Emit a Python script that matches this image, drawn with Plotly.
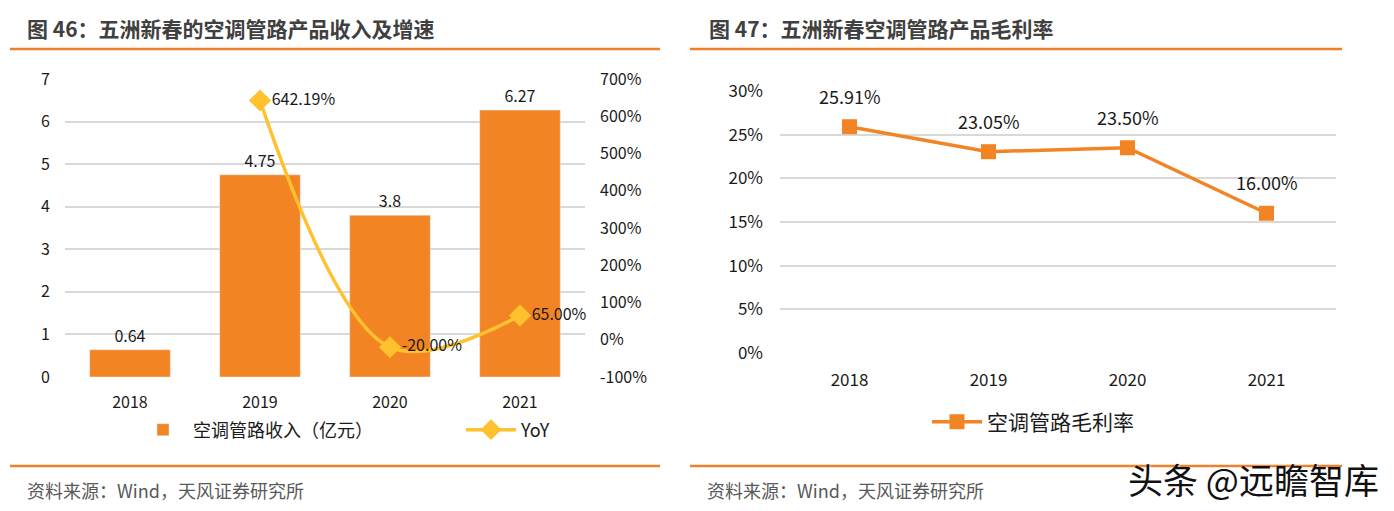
import plotly.graph_objects as go

years = ["2018", "2019", "2020", "2021"]
revenue = [0.64, 4.75, 3.8, 6.27]
yoy = [None, 642.19, -20.00, 65.00]
margin = [25.91, 23.05, 23.50, 16.00]

rev_labels = ["0.64", "4.75", "3.8", "6.27"]
yoy_labels = ["", "642.19%", "-20.00%", "65.00%"]
margin_labels = ["25.91%", "23.05%", "23.50%", "16.00%"]

left_ticks = [0, 1, 2, 3, 4, 5, 6, 7]
yoy_ticks = [-100, 0, 100, 200, 300, 400, 500, 600, 700]
yoy_ticktext = [f"{v}%" for v in yoy_ticks]
margin_ticks = [0, 5, 10, 15, 20, 25, 30]
margin_ticktext = [f"{v}%" for v in margin_ticks]

ORANGE = "#F28424"
YELLOW = "#FFC12E"
GRID = "#D9D9D9"
FONT = "Noto Sans CJK SC, sans-serif"
CJK = "Noto Sans CJK SC, sans-serif"

W, H = 1394, 511
OX, OY = 8, 8  # page body margin compensation
def px(x):
    return (x - OX) / W
def py(y):
    return (H - (y - OY)) / H

fig = go.Figure()

fig.add_trace(go.Bar(
    x=years, y=revenue, name="空调管路收入（亿元）",
    marker=dict(color=ORANGE), width=0.62,
    text=rev_labels, textposition="outside", cliponaxis=False,
    textfont=dict(size=16, color="#1a1a1a", family=FONT),
    xaxis="x", yaxis="y", legend="legend",
))
fig.add_trace(go.Scatter(
    x=years, y=yoy, name="YoY", mode="lines+markers+text",
    line=dict(color=YELLOW, width=3.5, shape="spline", smoothing=1.0),
    marker=dict(symbol="diamond", size=17, color=YELLOW),
    text=yoy_labels, textposition="middle right", cliponaxis=False,
    textfont=dict(size=16, color="#1a1a1a", family=FONT),
    xaxis="x", yaxis="y2", legend="legend",
))
fig.add_trace(go.Scatter(
    x=years, y=margin, name="空调管路毛利率", mode="lines+markers",
    line=dict(color=ORANGE, width=3.5),
    marker=dict(symbol="square", size=15, color=ORANGE),
    cliponaxis=False,
    xaxis="x3", yaxis="y3", legend="legend2",
))
for i, (yv, t) in enumerate(zip(margin, margin_labels)):
    fig.add_annotation(x=i, y=yv, text=t, xref="x3", yref="y3",
                       showarrow=False, yshift=31,
                       font=dict(size=18, color="#1a1a1a", family=FONT))

tickfont = dict(size=16, color="#1a1a1a", family=FONT)
tickfont_r = dict(size=17, color="#1a1a1a", family=FONT)

fig.update_layout(
    width=W, height=H, margin=dict(l=0, r=0, t=0, b=0, autoexpand=False),
    paper_bgcolor="white", plot_bgcolor="white",
    showlegend=True,
    xaxis=dict(type="category", categoryorder="array", categoryarray=years,
               range=[-0.5, 3.5], domain=[px(65), px(585)], anchor="y", showgrid=False,
               showline=False, ticks="", tickfont=tickfont, ticklabelstandoff=14,
               automargin=False),
    yaxis=dict(range=[0, 7], tickvals=left_ticks, showgrid=True, gridcolor=GRID,
               gridwidth=1.5, zeroline=False, showline=False, tickfont=tickfont,
               domain=[py(377), py(79)], ticklabelstandoff=14, automargin=False),
    yaxis2=dict(range=[-100, 700], tickvals=yoy_ticks, ticktext=yoy_ticktext,
                overlaying="y", side="right", anchor="x", showgrid=False,
                zeroline=False, showline=False, tickfont=tickfont,
                ticklabelstandoff=14, automargin=False),
    xaxis3=dict(type="category", categoryorder="array", categoryarray=years,
                range=[-0.5, 3.5], domain=[px(780), px(1336)], anchor="y3",
                showgrid=False, showline=False, ticks="", tickfont=tickfont_r,
                ticklabelstandoff=15, automargin=False),
    yaxis3=dict(range=[0, 30], tickvals=margin_ticks, ticktext=margin_ticktext,
                showgrid=True, gridcolor=GRID, gridwidth=1.5, zeroline=False,
                showline=False, domain=[py(353), py(91)],
                tickfont=tickfont_r, ticklabelstandoff=16, anchor="x3",
                automargin=False),
    legend=dict(orientation="h", x=px(133), y=py(430), yanchor="middle",
                xanchor="left", entrywidth=263, entrywidthmode="pixels",
                font=dict(size=18, color="#1a1a1a", family=CJK),
                bgcolor="rgba(0,0,0,0)", itemwidth=50),
    legend2=dict(orientation="h", x=px(927), y=py(422), yanchor="middle",
                 xanchor="left", font=dict(size=21, color="#1a1a1a", family=CJK),
                 bgcolor="rgba(0,0,0,0)", itemwidth=50),
)

# Titles
fig.add_annotation(x=px(25), y=py(28), xref="paper", yref="paper", xanchor="left",
                   yanchor="middle", showarrow=False,
                   text="<b>图 46：五洲新春的空调管路产品收入及增速</b>",
                   font=dict(size=21, color="#404040", family=CJK))
fig.add_annotation(x=px(707), y=py(28), xref="paper", yref="paper", xanchor="left",
                   yanchor="middle", showarrow=False,
                   text="<b>图 47：五洲新春空调管路产品毛利率</b>",
                   font=dict(size=21, color="#404040", family=CJK))
# Sources
for sx in (25, 705):
    fig.add_annotation(x=px(sx), y=py(490), xref="paper", yref="paper", xanchor="left",
                       yanchor="middle", showarrow=False,
                       text="资料来源：Wind，天风证券研究所",
                       font=dict(size=18, color="#595959", family=CJK))
# Separator lines
for (x0, x1) in ((10, 660), (690, 1342)):
    for yl in (49, 466):
        fig.add_shape(type="line", xref="paper", yref="paper",
                      x0=px(x0), x1=px(x1), y0=py(yl), y1=py(yl),
                      line=dict(color="#F0812A", width=2.5))
# Watermark
fig.add_annotation(x=px(1381), y=py(478), xref="paper", yref="paper", xanchor="right",
                   yanchor="middle", showarrow=False,
                   text="头条 @远瞻智库",
                   font=dict(size=35, color="#111111", family=CJK,
                             shadow="1px 1px 2px white"))

fig.write_html("out.html")
